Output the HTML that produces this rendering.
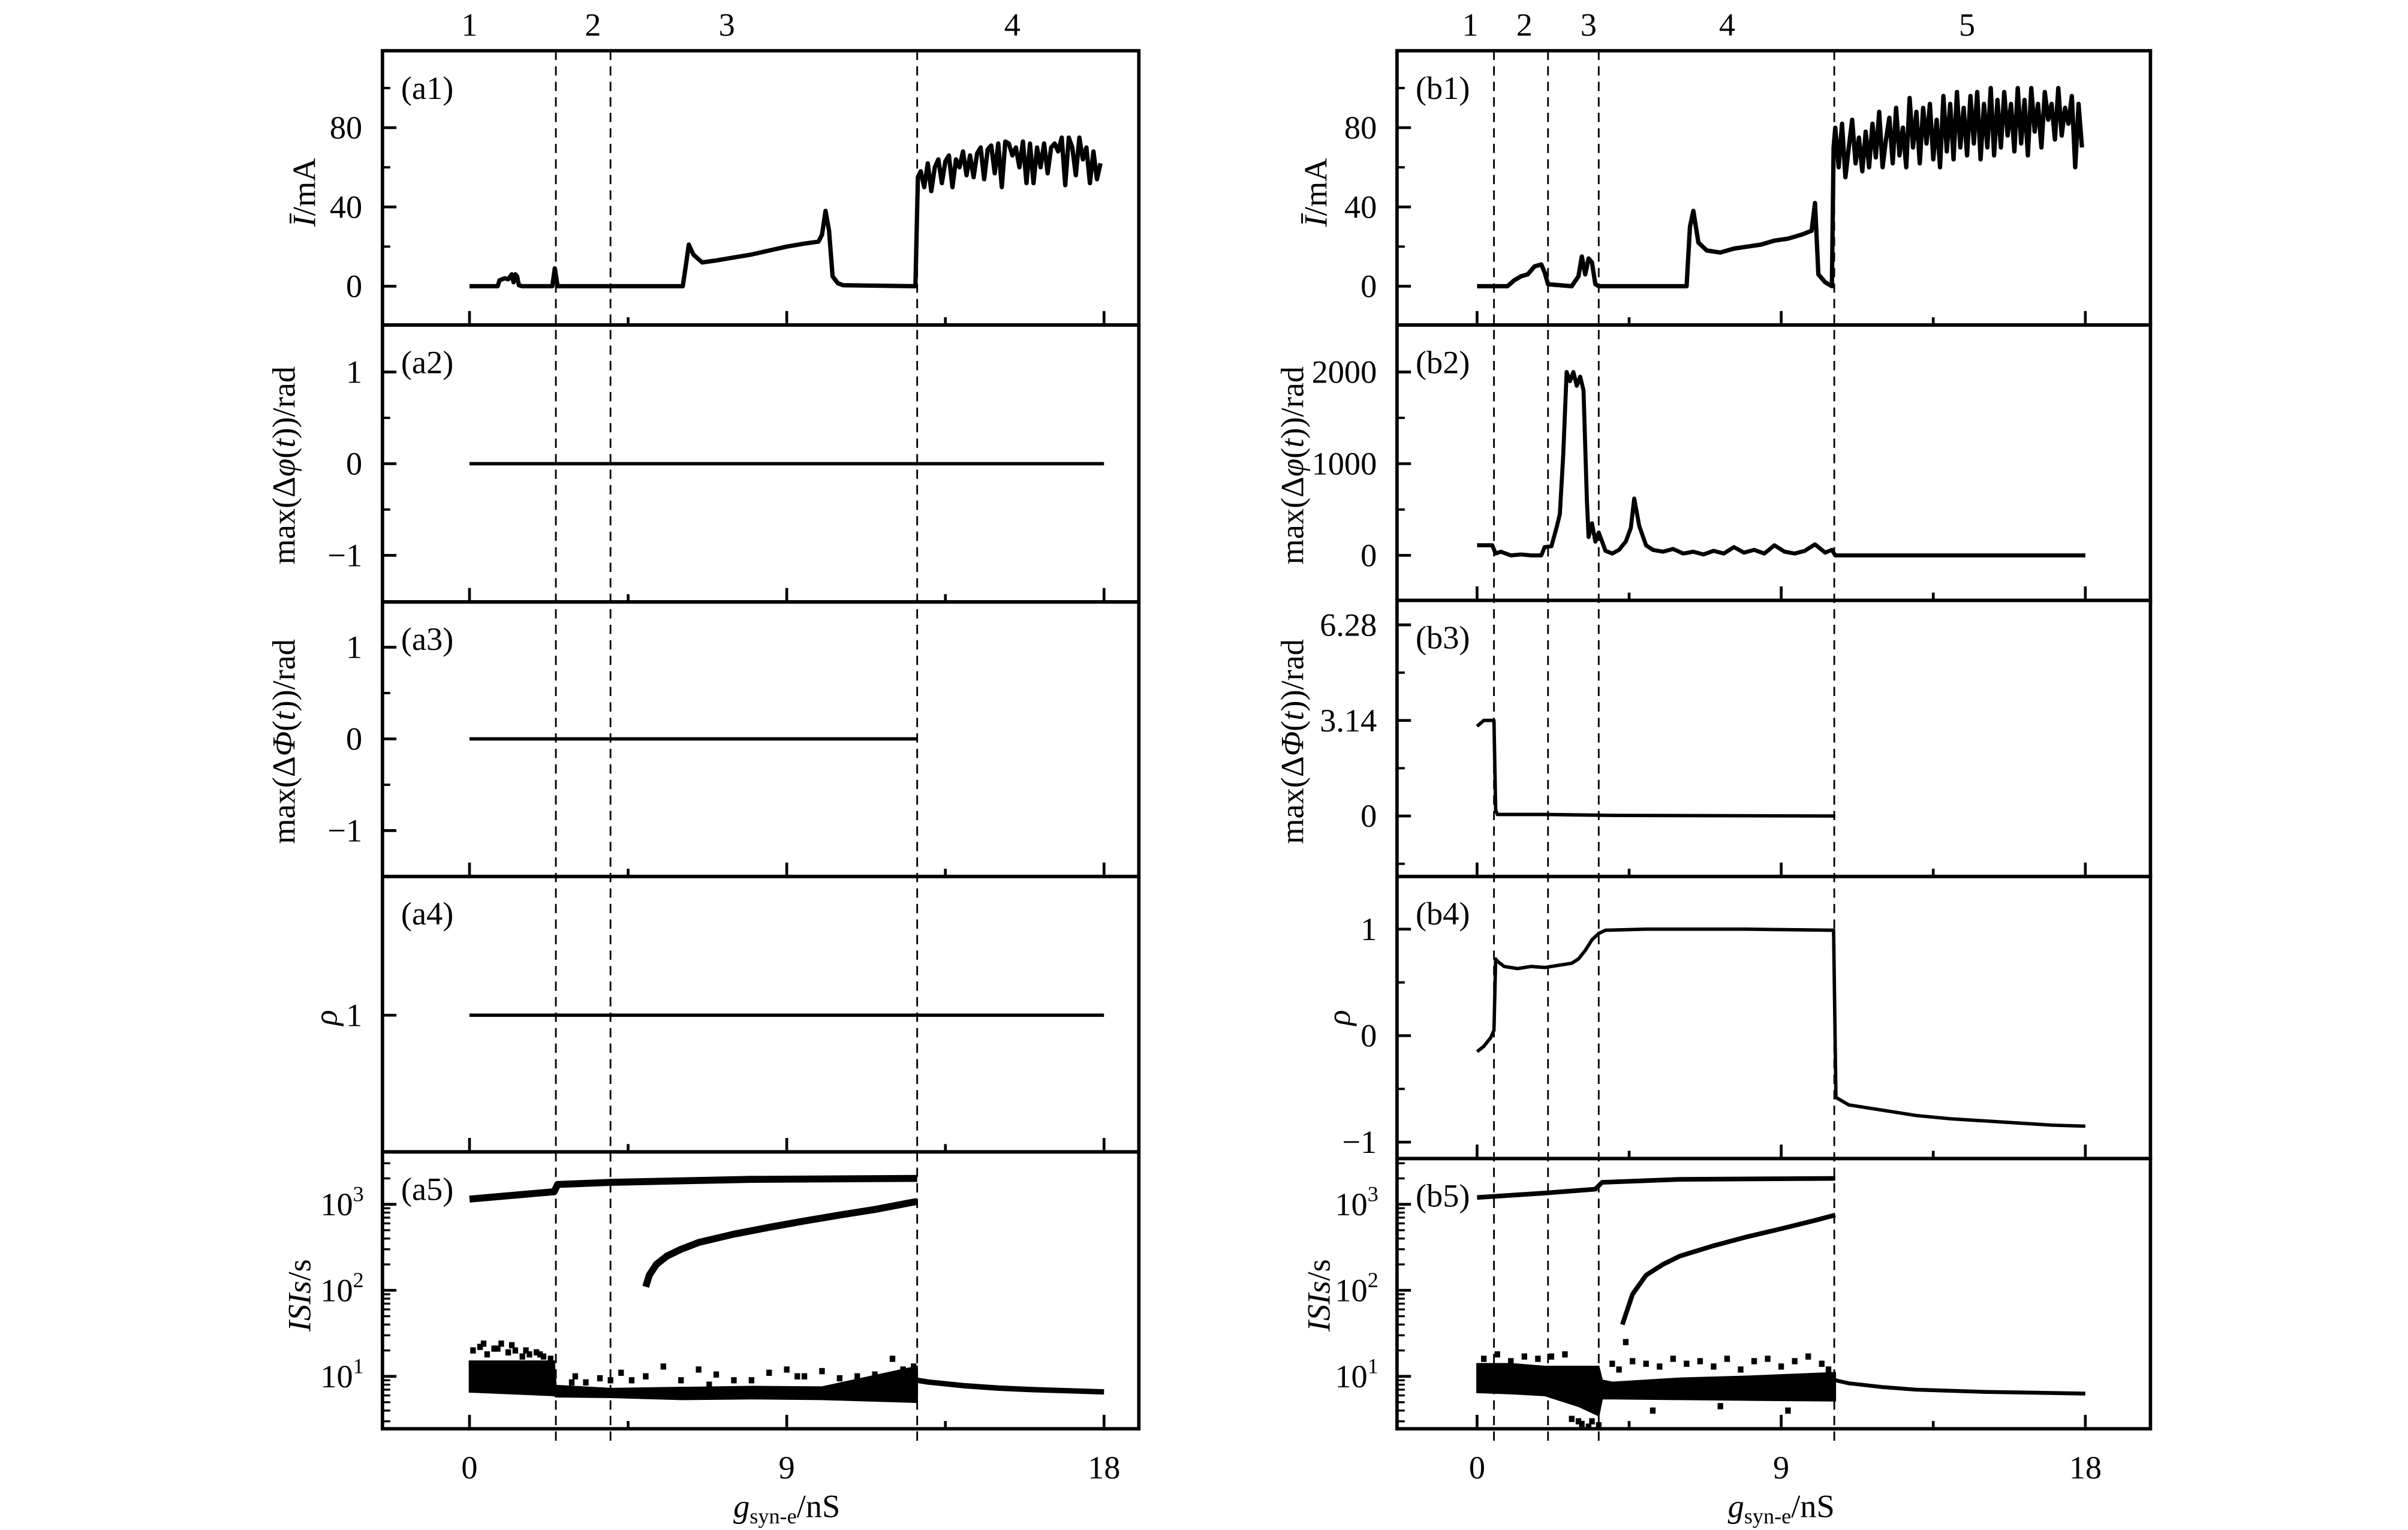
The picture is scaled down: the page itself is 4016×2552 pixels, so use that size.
<!DOCTYPE html>
<html><head><meta charset="utf-8"><title>Neuron synchronization chart</title>
<style>
html,body{margin:0;padding:0;background:#fff;}
svg{display:block;}
text{font-family:"Liberation Serif",serif;fill:#000;}
</style></head>
<body>
<svg id="chart" xmlns="http://www.w3.org/2000/svg" width="4016" height="2552" viewBox="0 0 1552 986.25" preserveAspectRatio="none"></svg>
<script>
// ---------- data (x in nS) ----------
const a1X=[0,0.8,0.85,1.0,1.1,1.2,1.25,1.3,1.35,1.4,1.5,2.35,2.42,2.5,6.05,6.15,6.22,6.35,6.6,7,7.5,8,8.5,9,9.5,9.9,10.0,10.1,10.2,10.3,10.45,10.6,12.65,12.72,12.8,12.9,13.0,13.1,13.2,13.3,13.4,13.5,13.6,13.7,13.8,13.9,14.0,14.1,14.2,14.3,14.4,14.5,14.6,14.7,14.8,14.9,15.0,15.1,15.2,15.3,15.4,15.5,15.6,15.7,15.8,15.9,16.0,16.1,16.2,16.3,16.4,16.5,16.6,16.7,16.8,16.9,17.0,17.1,17.2,17.3,17.4,17.5,17.6,17.7,17.8,17.9];
const a1Y=[0,0,3,4,3.5,6,2,6,5,0.5,0,0,9,0,0,12,21,16,12,13,14.5,16,18,20,21.5,22.5,26,38,28,5,1.5,0.5,0,55,58,50,62,48,60,64,52,63,66,50,64,60,68,56,66,55,67,70,54,69,71,57,72,50,73,72,66,70,60,73,52,72,52,70,60,72,57,70,72,68,75,51,75,70,56,75,64,70,52,68,54,62];
const a2X=[0,18]; const a2Y=[0,0];
const a3X=[0,12.7]; const a3Y=[0,0];
const a4X=[0,18]; const a4Y=[1,1];
const a5UpX=[0,2.4,2.5,4,8,12.7]; const a5UpY=[1150,1400,1700,1800,1950,2000];
const a5MidX=[5.0,5.1,5.3,5.6,6.0,6.5,7.5,8.5,9.5,10.5,11.5,12.7]; const a5MidY=[110,150,200,250,300,360,450,540,640,750,870,1080];
const a5BandX=[0,2.4,2.45,4,6,8,10,12.7]; const a5BandLo=[6.6,6.0,5.8,5.7,5.4,5.5,5.4,5.0]; const a5BandHi=[15,15,7.8,7.2,7.4,7.6,7.5,13];
const a5TailX=[12.7,13,14,15,16,17,18]; const a5TailY=[9,8.6,7.8,7.3,7.0,6.8,6.6];
const a5ScX=[0.1,0.3,0.5,0.7,0.9,1.1,1.3,1.5,1.7,1.9,2.1,2.3,0.4,0.8,1.2,1.6,2.0,3.0,3.3,4.0,4.3,4.6,5.0,5.5,6.0,6.5,7.0,7.5,8.0,8.5,9.0,9.5,10.0,10.5,11.0,11.5,12.0,12.3,12.6,2.9,3.7,6.8,9.3];
const a5ScY=[20,22,18,21,24,19,20,17,18,19,17,16,24,21,23,20,18,10,8.5,9,11,9,10,13,9,12,10.5,9,9,11,12,10,11.5,9.5,10,10.5,16,12,13,8.5,9.5,8,10];

const b1X=[0,0.9,1.1,1.3,1.5,1.7,1.9,2.0,2.1,2.8,3.0,3.1,3.2,3.3,3.4,3.5,3.6,6.2,6.3,6.4,6.55,6.8,7.2,7.6,8.0,8.4,8.8,9.2,9.6,9.9,10.0,10.1,10.3,10.5,10.55,10.6,10.7,10.8,10.9,11.0,11.1,11.2,11.3,11.4,11.5,11.6,11.7,11.8,11.9,12.0,12.1,12.2,12.3,12.4,12.5,12.6,12.7,12.8,12.9,13.0,13.1,13.2,13.3,13.4,13.5,13.6,13.7,13.8,13.9,14.0,14.1,14.2,14.3,14.4,14.5,14.6,14.7,14.8,14.9,15.0,15.1,15.2,15.3,15.4,15.5,15.6,15.7,15.8,15.9,16.0,16.1,16.2,16.3,16.4,16.5,16.6,16.7,16.8,16.9,17.0,17.1,17.2,17.3,17.4,17.5,17.6,17.7,17.8,17.9];
const b1Y=[0,0,3,5,6,10,11,7,1,0,5,15,6,14,12,1,0,0,30,38,22,18,17,19,20,21,23,24,26,28,42,6,2,0,70,80,60,82,55,70,84,62,75,58,78,60,82,65,88,60,74,85,62,90,66,80,60,95,70,88,62,90,72,92,64,84,60,96,68,92,64,98,70,90,66,96,72,98,64,92,70,100,66,94,70,98,76,92,68,100,72,94,66,100,78,92,70,98,84,92,74,100,76,90,82,96,60,92,70];
const b2X=[0,0.45,0.55,0.7,1.0,1.3,1.6,1.9,2.0,2.2,2.35,2.45,2.55,2.65,2.75,2.85,2.95,3.05,3.15,3.25,3.3,3.4,3.5,3.6,3.8,4.0,4.2,4.4,4.55,4.65,4.8,5.0,5.2,5.5,5.8,6.1,6.4,6.7,7.0,7.3,7.6,7.9,8.2,8.5,8.8,9.1,9.4,9.7,10.0,10.3,10.5,10.6,18];
const b2Y=[110,110,20,40,0,10,0,0,90,100,300,450,1100,2000,1900,2000,1850,1950,1800,600,200,350,150,250,50,20,60,150,300,620,320,110,60,40,70,20,40,10,50,20,90,30,60,20,110,40,20,50,120,30,60,0,0];
const b3X=[0,0.2,0.4,0.5,0.55,0.6,2,4,10.6]; const b3Y=[2.95,3.14,3.14,3.14,0.2,0.05,0.05,0.02,0.0];
const b4X=[0,0.2,0.4,0.5,0.55,0.6,0.8,1.2,1.6,2.0,2.4,2.8,3.0,3.2,3.4,3.6,3.8,5,8,10.55,10.62,11,12,13,14,15,16,17,18];
const b4Y=[-0.15,-0.1,-0.02,0.05,0.72,0.7,0.65,0.63,0.65,0.64,0.66,0.68,0.72,0.8,0.9,0.96,0.99,1.0,1.0,0.99,-0.58,-0.65,-0.7,-0.75,-0.78,-0.8,-0.82,-0.84,-0.85];
const b5UpX=[0,2,3.5,3.7,6,10.6]; const b5UpY=[1200,1350,1500,1800,1950,2000];
const b5MidX=[4.3,4.6,5.0,5.5,6.0,7.0,8.0,9.0,10.0,10.6]; const b5MidY=[40,90,150,200,250,330,420,520,650,750];
const b5BandX=[0,1,2,3,3.6,3.7,4,6,8,10.6]; const b5BandLo=[6.5,6.3,6,4.5,3.5,5.5,5.5,5.4,5.3,5.2]; const b5BandHi=[14,14,13,13,13,9,8.5,9.5,10,11];
const b5TailX=[10.6,11,12,13,14,15,16,17,18]; const b5TailY=[9,8.3,7.5,7,6.8,6.6,6.5,6.4,6.3];
const b5ScX=[0.2,0.6,1.0,1.4,1.8,2.2,2.6,3.0,3.3,2.8,3.1,3.4,3.6,4.2,4.6,5.0,5.4,5.8,6.2,6.6,7.0,7.4,7.8,8.2,8.6,9.0,9.4,9.8,10.2,10.4,5.2,7.2,9.2,4.0,4.4];
const b5ScY=[16,18,15,17,16,17,18,3,2.6,3.2,2.8,3,2.7,12,15,14,13,16,14,15,13,16,12,15,16,13,15,17,14,12,4,4.5,4,14,25];

// ---------- layout ----------
const NS="http://www.w3.org/2000/svg";
const svg=document.getElementById('chart');
function mk(tag,attrs,parent){const e=document.createElementNS(NS,tag);for(const k in attrs)e.setAttribute(k,attrs[k]);(parent||svg).appendChild(e);return e;}
const xL=v=>302.6+22.72*v, xR=v=>952+21.78*v;
const lg=v=>Math.log10(v);
const yA1=v=>184.5-1.2775*v, yA2=v=>298.9-59.1*v, yA3=v=>476.3-59.1*v, yA4=v=>654.4-68.65*(v-1), yA5=v=>887.2-55.45*(lg(v)-1);
const yB1=yA1, yB2=v=>358-0.0591*v, yB3=v=>526-19.62*v, yB4=v=>667.6-68.65*v, yB5=v=>887.2-55.45*(lg(v)-1);
const LX0=246.5, LX1=734, RX0=900.4, RX1=1386;
const panels=[
 {id:'a1',xs:xL,x0:LX0,x1:LX1,t:32.7,b:209.5,y:yA1,maj:[[0,'0'],[40,'40'],[80,'80']],min:[20,60,100]},
 {id:'a2',xs:xL,x0:LX0,x1:LX1,t:209.5,b:388,y:yA2,maj:[[1,'1'],[0,'0'],[-1,'−1']],min:[0.5,-0.5]},
 {id:'a3',xs:xL,x0:LX0,x1:LX1,t:388,b:565,y:yA3,maj:[[1,'1'],[0,'0'],[-1,'−1']],min:[0.5,-0.5]},
 {id:'a4',xs:xL,x0:LX0,x1:LX1,t:565,b:742.5,y:yA4,maj:[[1,'1']],min:[]},
 {id:'a5',xs:xL,x0:LX0,x1:LX1,t:742.5,b:921,y:yA5,log:true},
 {id:'b1',xs:xR,x0:RX0,x1:RX1,t:32.7,b:209.5,y:yB1,maj:[[0,'0'],[40,'40'],[80,'80']],min:[20,60,100]},
 {id:'b2',xs:xR,x0:RX0,x1:RX1,t:209.5,b:387,y:yB2,maj:[[2000,'2000'],[1000,'1000'],[0,'0']],min:[1500,500]},
 {id:'b3',xs:xR,x0:RX0,x1:RX1,t:387,b:565,y:yB3,maj:[[6.28,'6.28'],[3.14,'3.14'],[0,'0']],min:[4.71,1.57,-1.57]},
 {id:'b4',xs:xR,x0:RX0,x1:RX1,t:565,b:746.8,y:yB4,maj:[[1,'1'],[0,'0'],[-1,'−1']],min:[0.5,-0.5]},
 {id:'b5',xs:xR,x0:RX0,x1:RX1,t:746.8,b:921,y:yB5,log:true}
];
function path(xs,ys,sx,sy){return xs.map((v,i)=>(i?'L':'M')+sx(v).toFixed(2)+','+sy(ys[i]).toFixed(2)).join('');}

panels.forEach(p=>{
 const g=mk('g',{});
 
 
 const fr=mk('rect',{x:p.x0,y:p.t,width:p.x1-p.x0,height:p.b-p.t,fill:'none',stroke:'#000','stroke-width':2.2},g);
 
 
 [[0,9],[9,9],[18,9],[4.5,5],[13.5,5]].forEach(([v,l])=>{
  const t=mk('line',{x1:p.xs(v),x2:p.xs(v),y1:p.b,y2:p.b-l,stroke:'#000','stroke-width':1.8},g);
  
  
 });
 if(p.log){
  for(let d=0;d<=3;d++){for(let m=1;m<=9;m++){const v=m*Math.pow(10,d);const yy=p.y(v);if(yy<p.t+1||yy>p.b-1)continue;
   const t=mk('line',{x1:p.x0,x2:p.x0+(m===1?9:5),y1:yy,y2:yy,stroke:'#000','stroke-width':m===1?1.8:1.3},g);
   
   
   if(m===1){const tx=mk('text',{x:p.x0-12,y:yy+7,'font-size':21,'text-anchor':'end'},g);
    
    
    tx.textContent='10';const s=mk('tspan',{dy:-9,'font-size':14},tx);s.textContent=String(d);}
  }}
 } else {
  p.maj.forEach(([v,lab])=>{const yy=p.y(v);
   const t=mk('line',{x1:p.x0,x2:p.x0+9,y1:yy,y2:yy,stroke:'#000','stroke-width':1.8},g);
   
   
   const tx=mk('text',{x:p.x0-13,y:yy+7,'font-size':21,'text-anchor':'end'},g);
   
   
   tx.textContent=lab;});
  p.min.forEach(v=>{const yy=p.y(v);if(yy<p.t||yy>p.b)return;
   const t=mk('line',{x1:p.x0,x2:p.x0+5,y1:yy,y2:yy,stroke:'#000','stroke-width':1.5},g);
   
   });
 }
 const lb=mk('text',{x:p.x0+12,y:p.t+31,'font-size':21},g);
 
 
 lb.textContent='('+p.id+')';
});

function dashes(xs,sx,t,b){xs.forEach(v=>{const d=mk('line',{x1:sx(v),x2:sx(v),y1:t,y2:b,stroke:'#000','stroke-width':1.1,'stroke-dasharray':'6,4'});
 
 });}
const leftDiv=[2.45,4.0,12.7]; const rightDiv=[0.5,2.1,3.6,10.57];
dashes(leftDiv,xL,32.7,930); dashes(rightDiv,xR,32.7,930);

const leftRegX=[0,3.5,7.3,15.4]; const rightRegX=[-0.2,1.4,3.3,7.4,14.5];
leftRegX.forEach((v,i)=>{const t=mk('text',{x:xL(v),y:23,'font-size':21,'text-anchor':'middle'});
 
 
 t.textContent=String(i+1);});
rightRegX.forEach((v,i)=>{const t=mk('text',{x:xR(v),y:23,'font-size':21,'text-anchor':'middle'});
 
 
 t.textContent=String(i+1);});

function line(xs,ys,sx,sy,w,name){const e=mk('path',{d:path(xs,ys,sx,sy),fill:'none',stroke:'#000','stroke-width':w,'stroke-linejoin':'round'});
 
 }
line(a1X,a1Y,xL,yA1,2.8,'current-line-a1');
line(a2X,a2Y,xL,yA2,2.2,'phase-diff-line-a2');
line(a3X,a3Y,xL,yA3,2.2,'phase-diff-line-a3');
line(a4X,a4Y,xL,yA4,2.2,'correlation-line-a4');
line(b1X,b1Y,xR,yB1,2.8,'current-line-b1');
line(b2X,b2Y,xR,yB2,2.6,'phase-diff-line-b2');
line(b3X,b3Y,xR,yB3,2.2,'phase-diff-line-b3');
line(b4X,b4Y,xR,yB4,2.2,'correlation-line-b4');

function band(xs,lo,hi,sx,sy,name){const d=path(xs,hi,sx,sy)+xs.slice().reverse().map((v,i)=>'L'+sx(v).toFixed(2)+','+sy(lo[xs.length-1-i]).toFixed(2)).join('')+'Z';
 const e=mk('path',{d:d,fill:'#000',stroke:'#000','stroke-width':1});
 
 }
function scat(xs,ys,sx,sy){xs.forEach((v,i)=>{const r=mk('rect',{x:sx(v)-1.8,y:sy(ys[i])-2,width:3.6,height:4,fill:'#000'});
 
 });}
line(a5UpX,a5UpY,xL,yA5,4.5,'isi-upper-branch-a5');
line(a5MidX,a5MidY,xL,yA5,4.5,'isi-middle-branch-a5');
band(a5BandX,a5BandLo,a5BandHi,xL,yA5,'isi-band-a5');
line(a5TailX,a5TailY,xL,yA5,3.5,'isi-tail-a5');
scat(a5ScX,a5ScY,xL,yA5);
line(b5UpX,b5UpY,xR,yB5,3,'isi-upper-branch-b5');
line(b5MidX,b5MidY,xR,yB5,3,'isi-middle-branch-b5');
band(b5BandX,b5BandLo,b5BandHi,xR,yB5,'isi-band-b5');
line(b5TailX,b5TailY,xR,yB5,2.5,'isi-tail-b5');
scat(b5ScX,b5ScY,xR,yB5);

[[xL,'left'],[xR,'right']].forEach(([sx,side])=>{
 [0,9,18].forEach(v=>{const t=mk('text',{x:sx(v),y:953,'font-size':21,'text-anchor':'middle'});
  
  
  t.textContent=String(v);});
 const t=mk('text',{x:sx(9),y:978,'font-size':21,'text-anchor':'middle'});
 
 
 const a=mk('tspan',{'font-style':'italic'},t);a.textContent='g';
 const b=mk('tspan',{'font-size':14,dy:4},t);b.textContent='syn-e';
 const c=mk('tspan',{dy:-4},t);c.textContent='/nS';
});

function ytitle(x,y,parts,name){const t=mk('text',{x:x,y:y,'font-size':21,'text-anchor':'middle',transform:'rotate(-90 '+x+' '+y+')'});
 
 
 parts.forEach(([s,it])=>{const sp=mk('tspan',it?{'font-style':'italic'}:{},t);sp.textContent=s;});}
ytitle(203,124,[['I\u0304',true],['/mA',false]],'y-axis-title-a1');
ytitle(190,300,[['max(Δ',false],['φ',true],['(',false],['t',true],['))/rad',false]],'y-axis-title-a2');
ytitle(190,478,[['max(Δ',false],['Φ',true],['(',false],['t',true],['))/rad',false]],'y-axis-title-a3');
ytitle(217,656,[['ρ',true]],'y-axis-title-a4');
ytitle(200,835,[['ISIs',true],['/s',false]],'y-axis-title-a5');
ytitle(855,124,[['I\u0304',true],['/mA',false]],'y-axis-title-b1');
ytitle(840,300,[['max(Δ',false],['φ',true],['(',false],['t',true],['))/rad',false]],'y-axis-title-b2');
ytitle(840,478,[['max(Δ',false],['Φ',true],['(',false],['t',true],['))/rad',false]],'y-axis-title-b3');
ytitle(870,656,[['ρ',true]],'y-axis-title-b4');
ytitle(857,835,[['ISIs',true],['/s',false]],'y-axis-title-b5');
</script>
</body></html>
